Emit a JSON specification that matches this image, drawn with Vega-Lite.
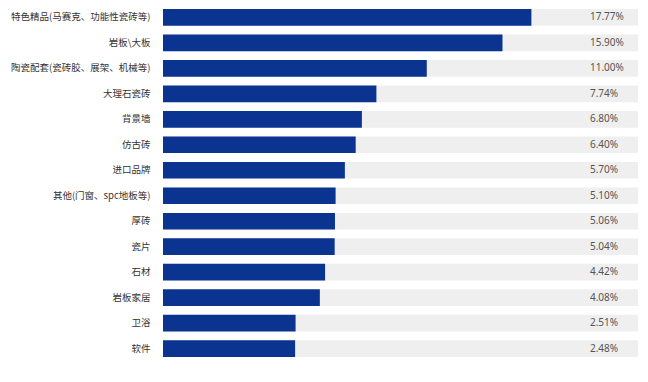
{
  "$schema": "https://vega.github.io/schema/vega-lite/v6.json",
  "width": 475,
  "height": 356,
  "autosize": {"type": "none"},
  "padding": {"left": 163, "top": 5, "right": 10, "bottom": 21},
  "background": "white",
  "config": {"view": {"stroke": null}, "font": "Noto Sans CJK SC"},
  "data": {
    "values": [
      {"category": "特色精品(马赛克、功能性瓷砖等)", "value": 17.77, "label": "17.77%"},
      {"category": "岩板\\大板", "value": 15.90, "label": "15.90%"},
      {"category": "陶瓷配套(瓷砖胶、展架、机械等)", "value": 11.00, "label": "11.00%"},
      {"category": "大理石瓷砖", "value": 7.74, "label": "7.74%"},
      {"category": "背景墙", "value": 6.80, "label": "6.80%"},
      {"category": "仿古砖", "value": 6.40, "label": "6.40%"},
      {"category": "进口品牌", "value": 5.70, "label": "5.70%"},
      {"category": "其他(门窗、spc地板等)", "value": 5.10, "label": "5.10%"},
      {"category": "厚砖", "value": 5.06, "label": "5.06%"},
      {"category": "瓷片", "value": 5.04, "label": "5.04%"},
      {"category": "石材", "value": 4.42, "label": "4.42%"},
      {"category": "岩板家居", "value": 4.08, "label": "4.08%"},
      {"category": "卫浴", "value": 2.51, "label": "2.51%"},
      {"category": "软件", "value": 2.48, "label": "2.48%"}
    ]
  },
  "encoding": {
    "y": {
      "field": "category",
      "type": "nominal",
      "sort": null,
      "scale": {"paddingInner": 0.345, "paddingOuter": 0.157},
      "axis": {
        "title": null,
        "domain": false,
        "ticks": false,
        "labelPadding": 13,
        "labelFontSize": 9.5,
        "labelColor": "#333333",
        "labelFont": "Noto Sans CJK SC"
      }
    }
  },
  "layer": [
    {
      "mark": {"type": "bar", "color": "#efefef"},
      "encoding": {
        "x": {"datum": 24.67, "type": "quantitative", "scale": {"domain": [-6.07, 24.67], "nice": false, "zero": false}, "axis": null},
        "x2": {"datum": -6.07}
      }
    },
    {
      "mark": {"type": "bar", "color": "#0a3490"},
      "encoding": {
        "x": {"field": "value", "type": "quantitative"},
        "x2": {"datum": -6.07}
      }
    },
    {
      "mark": {"type": "text", "align": "left", "baseline": "middle", "fontSize": 10, "color": "#555555", "font": "Noto Sans"},
      "encoding": {
        "x": {"datum": 21.56, "type": "quantitative"},
        "text": {"field": "label"}
      }
    }
  ]
}
